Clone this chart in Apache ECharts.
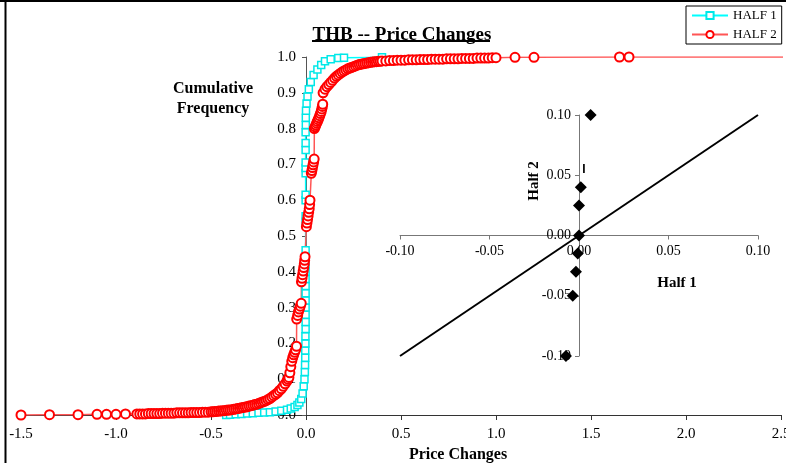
<!DOCTYPE html>
<html>
<head>
<meta charset="utf-8">
<script src="https://cdn.jsdelivr.net/npm/echarts@6/dist/echarts.min.js"></script>
<style>
html,body{margin:0;padding:0;background:#fff;}
#c{width:786px;height:463px;}
</style>
</head>
<body>
<div id="c"></div>
<script>
// ---- Data ----
var titleText = 'THB -- Price Changes';
var seriesNames = ['HALF 1', 'HALF 2'];

// HALF 1: cumulative frequency of price changes
var half1X = [-0.42,-0.40,-0.37,-0.34,-0.31,-0.28,-0.25,-0.22,-0.19,-0.16,-0.13,-0.10,-0.08,-0.06,-0.045,-0.035,-0.025,-0.018,-0.012,-0.008,-0.006,-0.005,-0.004,-0.004,-0.003,-0.003,-0.002,-0.002,-0.002,-0.002,-0.002,-0.002,-0.002,-0.002,-0.002,-0.002,-0.002,-0.002,-0.002,-0.002,-0.002,-0.002,-0.002,-0.002,-0.002,-0.002,-0.002,-0.002,-0.001,-0.001,0.000,0.003,0.008,0.015,0.025,0.040,0.060,0.080,0.100,0.130,0.170,0.200,0.400];
var half1Y = [0.000,0.001,0.002,0.003,0.004,0.005,0.006,0.007,0.008,0.010,0.012,0.015,0.018,0.022,0.028,0.035,0.045,0.060,0.080,0.100,0.120,0.140,0.160,0.180,0.200,0.220,0.240,0.260,0.280,0.300,0.320,0.340,0.360,0.380,0.400,0.420,0.440,0.460,0.540,0.555,0.600,0.615,0.675,0.690,0.705,0.740,0.760,0.790,0.810,0.830,0.850,0.870,0.890,0.910,0.930,0.950,0.965,0.978,0.988,0.994,0.997,0.998,0.999,1.000,1.000];

// HALF 2: cumulative frequency of price changes
var half2X = [-1.50,-1.35,-1.20,-1.10,-1.05,-1.00,-0.95,
  -0.890,-0.875,-0.860,-0.845,-0.830,-0.815,-0.800,-0.785,-0.770,-0.755,-0.740,-0.725,-0.710,-0.695,-0.680,-0.665,-0.650,-0.635,-0.620,-0.605,-0.590,-0.575,-0.560,-0.545,-0.530,-0.515,-0.500,
  -0.49,-0.48,-0.47,-0.46,-0.45,-0.44,-0.43,-0.42,-0.41,-0.40,-0.39,-0.38,-0.37,-0.36,-0.35,-0.34,-0.33,-0.32,-0.31,-0.30,-0.29,-0.28,-0.27,-0.26,-0.25,-0.24,-0.23,-0.22,-0.21,-0.20,
  -0.190,-0.180,-0.170,-0.160,-0.150,-0.140,-0.130,-0.120,-0.110,-0.100,-0.095,-0.090,-0.085,-0.080,-0.075,-0.070,-0.065,-0.060,-0.055,-0.050,
  -0.049,-0.044,-0.040,-0.035,-0.030,-0.025,
  -0.024,-0.021,-0.018,-0.015,-0.012,-0.009,-0.007,-0.005,
  0.002,0.005,0.008,0.011,0.014,0.017,0.019,0.021,
  0.028,0.031,0.034,0.037,0.040,0.043,
  0.044,0.048,0.052,0.056,0.060,0.064,0.068,0.072,0.076,0.080,0.083,0.086,0.088,
  0.09,0.10,0.11,0.12,0.13,0.14,0.15,0.16,0.17,0.18,0.19,0.20,0.21,0.22,0.23,0.24,0.25,0.26,0.27,0.28,0.29,0.30,0.31,0.32,0.33,0.34,0.35,0.36,0.37,0.38,0.39,0.40,
  0.42,0.44,0.46,0.48,0.50,0.52,0.54,0.56,0.58,0.60,0.62,0.64,0.66,0.68,0.70,0.72,0.74,0.76,0.78,0.80,0.82,0.84,0.86,0.88,0.90,0.92,0.94,0.96,0.98,1.00,
  1.10,1.20,1.65,1.70,2.60];
var half2Y = [0.000,0.001,0.001,0.002,0.002,0.002,0.003,
  0.003,0.003,0.003,0.003,0.004,0.004,0.004,0.004,0.004,0.005,0.005,0.005,0.005,0.005,0.006,0.006,0.006,0.006,0.006,0.007,0.007,0.007,0.007,0.008,0.008,0.008,0.009,
  0.009,0.010,0.010,0.011,0.011,0.012,0.012,0.013,0.014,0.014,0.015,0.016,0.017,0.018,0.019,0.020,0.021,0.022,0.023,0.025,0.026,0.027,0.029,0.030,0.032,0.034,0.036,0.038,0.040,0.043,
  0.046,0.050,0.054,0.058,0.062,0.068,0.073,0.080,0.087,0.095,0.100,0.105,0.118,0.135,0.150,0.160,0.168,0.175,0.182,0.192,
  0.268,0.278,0.288,0.296,0.304,0.312,
  0.372,0.382,0.392,0.402,0.412,0.422,0.432,0.442,
  0.526,0.536,0.546,0.556,0.566,0.576,0.588,0.600,
  0.675,0.683,0.691,0.699,0.707,0.715,
  0.800,0.805,0.810,0.815,0.820,0.825,0.830,0.836,0.842,0.848,0.855,0.862,0.868,
  0.900,0.910,0.917,0.923,0.929,0.935,0.941,0.946,0.950,0.954,0.958,0.961,0.964,0.967,0.969,0.971,0.973,0.975,0.977,0.979,0.980,0.981,0.982,0.983,0.984,0.985,0.986,0.987,0.987,0.988,0.988,0.989,
  0.989,0.990,0.990,0.991,0.991,0.991,0.992,0.992,0.992,0.993,0.993,0.993,0.994,0.994,0.994,0.994,0.995,0.995,0.995,0.995,0.996,0.996,0.996,0.996,0.997,0.997,0.997,0.997,0.998,0.998,
  0.999,0.999,1.000,1.000,1.000];

// Inset: quantiles Half 1 vs Half 2
var insetHalf1 = [0.0065,0.001,0.000,0.000,-0.0007,-0.0017,-0.0035,-0.0073];
var insetHalf2 = [0.100,0.040,0.025,0.000,-0.015,-0.030,-0.050,-0.100];
var refLine = [-0.10, 0.10];

var FONT = 'Liberation Serif';

function zip(a, b) { var r = []; for (var i = 0; i < a.length && i < b.length; i++) r.push([a[i], b[i]]); return r; }

var chart = echarts.init(document.getElementById('c'), null, {renderer: 'canvas'});
function txt(size) { return {fontFamily: FONT, fontSize: size, color: '#000'}; }

var option = {
  animation: false,
  backgroundColor: '#fff',
  title: [
    {text: titleText, left: 397, top: 21, textAlign: 'center',
     textStyle: {fontFamily: FONT, fontSize: 19, fontWeight: 'bold', color: '#000'}},
    {text: 'Cumulative\nFrequency', left: 208, top: 74, textAlign: 'center',
     textStyle: {fontFamily: FONT, fontSize: 16, fontWeight: 'bold', color: '#000', lineHeight: 20}},
    {text: 'Price Changes', left: 453, top: 442, textAlign: 'center',
     textStyle: {fontFamily: FONT, fontSize: 16, fontWeight: 'bold', color: '#000'}},
    {text: 'Half 1', left: 672, top: 271, textAlign: 'center',
     textStyle: {fontFamily: FONT, fontSize: 15, fontWeight: 'bold', color: '#000'}}
  ],
  legend: {
    data: seriesNames,
    orient: 'vertical',
    left: 686, top: 6,
    itemWidth: 36, itemHeight: 9, itemGap: 6,
    padding: [3, 5, 3, 5],
    borderColor: '#000', borderWidth: 1, backgroundColor: '#fff',
    textStyle: txt(13)
  },
  grid: [
    {left: 21, right: 5, top: 57, bottom: 48, outerBoundsMode: 'none', containLabel: false},
    {left: 400, right: 28, top: 115, bottom: 107, outerBoundsMode: 'none', containLabel: false}
  ],
  xAxis: [
    {gridIndex: 0, type: 'value', min: -1.5, max: 2.5, interval: 0.5,
     axisLine: {onZero: false, lineStyle: {color: '#333', width: 1}},
     axisTick: {show: true, length: 5, lineStyle: {color: '#333'}},
     axisLabel: Object.assign({margin: 12, formatter: function (v) { return v.toFixed(1); }}, txt(15)),
     splitLine: {show: false}},
    {gridIndex: 1, type: 'value', min: -0.1, max: 0.1, interval: 0.05,
     position: 'bottom', offset: -120.5,
     axisLine: {onZero: false, lineStyle: {color: '#777', width: 1}},
     axisTick: {show: true, length: 4, lineStyle: {color: '#777'}},
     axisLabel: Object.assign({margin: 9, formatter: function (v) { return v.toFixed(2); }}, txt(14)),
     splitLine: {show: false}}
  ],
  yAxis: [
    {gridIndex: 0, type: 'value', min: 0, max: 1, interval: 0.1,
     position: 'left', offset: -285,
     axisLine: {show: true, onZero: false, lineStyle: {color: '#555', width: 1}},
     axisTick: {show: true, length: 4, lineStyle: {color: '#555'}},
     axisLabel: Object.assign({margin: 10, formatter: function (v) { return v.toFixed(1); }}, txt(15)),
     splitLine: {show: false}},
    {gridIndex: 1, type: 'value', min: -0.1, max: 0.1, interval: 0.05,
     position: 'left', offset: -179,
     axisLine: {show: true, onZero: false, lineStyle: {color: '#777', width: 1}},
     axisTick: {show: true, length: 4, lineStyle: {color: '#777'}},
     axisLabel: Object.assign({margin: 8, formatter: function (v) { return v.toFixed(2); }}, txt(14)),
     splitLine: {show: false}}
  ],
  graphic: [
    {type: 'line', shape: {x1: 0, y1: 1, x2: 786, y2: 1}, style: {stroke: '#000', lineWidth: 2}},
    {type: 'line', shape: {x1: 5.5, y1: 0, x2: 5.5, y2: 463}, style: {stroke: '#000', lineWidth: 2}},
    {type: 'line', shape: {x1: 312, y1: 41, x2: 490, y2: 41}, style: {stroke: '#000', lineWidth: 2}},
    {type: 'text', x: 534, y: 181, rotation: Math.PI / 2,
     style: {text: 'Half 2', font: 'bold 15px "Liberation Serif"', fill: '#000', textAlign: 'center', textVerticalAlign: 'middle'}},
    {type: 'text', x: 584, y: 170,
     style: {text: 'I', font: 'bold 12px "Liberation Sans"', fill: '#000', textAlign: 'center', textVerticalAlign: 'middle'}}
  ],
  series: [
    {name: seriesNames[0], type: 'line', xAxisIndex: 0, yAxisIndex: 0,
     data: zip(half1X, half1Y), symbol: 'rect', symbolSize: 7, showAllSymbol: true, clip: true,
     lineStyle: {color: '#00ffff', width: 1.5},
     itemStyle: {color: '#fff', borderColor: '#00e8e8', borderWidth: 1.5}},
    {name: seriesNames[1], type: 'line', xAxisIndex: 0, yAxisIndex: 0,
     data: zip(half2X, half2Y), symbol: 'circle', symbolSize: 9, showAllSymbol: true, clip: true,
     lineStyle: {color: '#ff5555', width: 1.5},
     itemStyle: {color: '#fff', borderColor: '#ff0000', borderWidth: 2}},
    {name: 'ref', type: 'line', xAxisIndex: 1, yAxisIndex: 1,
     data: zip(refLine, refLine), symbol: 'none',
     lineStyle: {color: '#000', width: 2}},
    {name: 'qq', type: 'scatter', xAxisIndex: 1, yAxisIndex: 1,
     data: zip(insetHalf1, insetHalf2), symbol: 'diamond', symbolSize: 12,
     itemStyle: {color: '#000', opacity: 1}}
  ]
};
chart.setOption(option);
</script>
</body>
</html>
